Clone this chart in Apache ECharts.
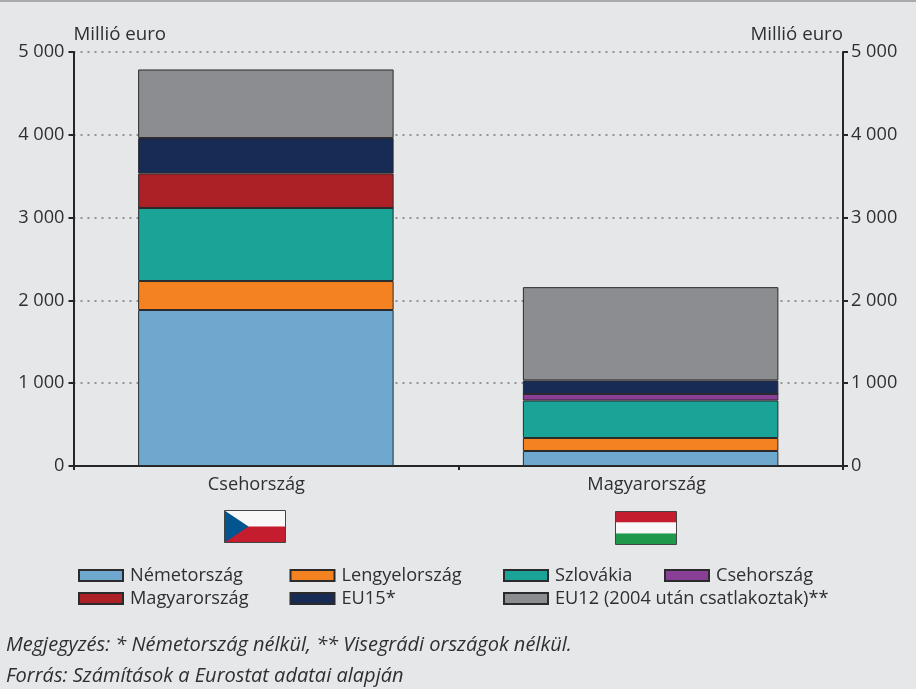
<!DOCTYPE html>
<html><head><meta charset="utf-8">
<style>html,body{margin:0;padding:0;background:#e6e7e9}#c{width:916px;height:689px}</style>
<script src="https://cdn.jsdelivr.net/npm/echarts@6/dist/echarts.min.js"></script>
</head><body><div id="c"></div>
<script>
const categories = ['Csehország', 'Magyarország'];
const nemetorszag = [1884, 181];
const lengyelorszag = [350, 157];
const szlovakia = [882, 453];
const csehorszag = [0, 79];
const magyarorszag = [417, 0];
const eu15 = [428, 163];
const eu12 = [828, 1127];
const axisName = 'Millió euro';
const noteLines = ['Megjegyzés: * Németország nélkül, ** Visegrádi országok nélkül.', 'Forrás: Számítások a Eurostat adatai alapján'];

const FONT = '"Open Sans", "Noto Sans", sans-serif';
const TEXT = '#2f2f31', AXIS = '#262626', FS = 18.2;
const colors = {
  'Németország': '#6fa8cf', 'Lengyelország': '#f58220', 'Szlovákia': '#1aa397', 'Csehország': '#8a3f96',
  'Magyarország': '#ac2125', 'EU15*': '#182b55', 'EU12 (2004 után csatlakoztak)**': '#8c8d91'
};
const seriesData = [
  ['Németország', nemetorszag], ['Lengyelország', lengyelorszag], ['Szlovákia', szlovakia], ['Csehország', csehorszag],
  ['Magyarország', magyarorszag], ['EU15*', eu15], ['EU12 (2004 után csatlakoztak)**', eu12]
];
const labelShift = [19, 8];
const fmt = v => String(v).replace(/\B(?=(\d{3})+$)/g, ' ');
const yAxisBase = {
  type: 'value', min: 0, max: 5000, interval: 1000,
  name: axisName, nameLocation: 'end', nameGap: 8,
  axisLine: { show: true, lineStyle: { color: AXIS, width: 2 } },
  axisTick: { show: true, length: 5, lineStyle: { color: AXIS, width: 2 } },
  axisLabel: { color: TEXT, fontSize: FS, fontFamily: FONT, margin: 9, formatter: fmt }
};
const legendBase = {
  orient: 'vertical', itemWidth: 44, itemHeight: 11, itemGap: 0, padding: 0,
  textStyle: { color: TEXT, fontSize: FS, fontFamily: FONT, padding: [0, 0, 0, 2], height: 23, lineHeight: 23 },
  icon: 'rect', selectedMode: false
};
const leg = (left, data) => Object.assign({}, legendBase, { left, top: 564, data });
const flag = (x, y, children) => ({ type: 'group', x, y, children });

const chart = echarts.init(document.getElementById('c'), null, { renderer: 'canvas' });
chart.setOption({
  backgroundColor: '#e6e7e9',
  animation: false,
  grid: { left: 73.5, right: 73, top: 52, bottom: 223 },
  xAxis: {
    type: 'category',
    data: categories.map((value, i) => ({ value, textStyle: { padding: [0, labelShift[i], 0, 0] } })),
    axisLine: { lineStyle: { color: AXIS, width: 2 } },
    axisTick: { show: true, length: 4, lineStyle: { color: AXIS, width: 2 } },
    axisLabel: { color: TEXT, fontSize: FS, fontFamily: FONT, margin: 10 }
  },
  yAxis: [
    Object.assign({}, yAxisBase, {
      position: 'left',
      nameTextStyle: { color: TEXT, fontSize: 18.7, fontFamily: FONT, align: 'left' },
      splitLine: { show: true, lineStyle: { color: '#77787b', type: [2, 5], width: 1.5 } }
    }),
    Object.assign({}, yAxisBase, {
      position: 'right',
      axisLabel: Object.assign({}, yAxisBase.axisLabel, { margin: 8 }),
      nameTextStyle: { color: TEXT, fontSize: 18.7, fontFamily: FONT, align: 'right' },
      splitLine: { show: false }
    })
  ],
  legend: [
    leg(78, ['Németország', 'Magyarország']),
    leg(289.5, ['Lengyelország', 'EU15*']),
    leg(503, ['Szlovákia', 'EU12 (2004 után csatlakoztak)**']),
    leg(664, ['Csehország'])
  ],
  series: seriesData.map(([name, data]) => ({
    name, type: 'bar', stack: 'total', data, barWidth: '66.4%',
    itemStyle: { color: colors[name], borderColor: '#2b2b2e', borderWidth: 1 }
  })),
  graphic: [
    { type: 'rect', left: 0, top: 0, shape: { width: 916, height: 2 }, style: { fill: '#a9aaac' } },
    { type: 'text', left: 6, top: 635, style: { text: noteLines[0], fill: TEXT, font: 'italic 20px ' + FONT } },
    { type: 'text', left: 6, top: 666, style: { text: noteLines[1], fill: TEXT, font: 'italic 20px ' + FONT } },
    flag(224.5, 510.5, [
      { type: 'rect', shape: { x: 0, y: 0, width: 61, height: 32 }, style: { fill: '#f8f8f8' } },
      { type: 'rect', shape: { x: 0, y: 16, width: 61, height: 16 }, style: { fill: '#c41e2e' } },
      { type: 'polygon', shape: { points: [[0, 0], [24, 16], [0, 32]] }, style: { fill: '#03558f' } },
      { type: 'rect', shape: { x: 0, y: 0, width: 61, height: 32 }, style: { fill: 'none', stroke: '#444', lineWidth: 1 } }
    ]),
    flag(615.5, 511.5, [
      { type: 'rect', shape: { x: 0, y: 0, width: 61, height: 11 }, style: { fill: '#c41e2e' } },
      { type: 'rect', shape: { x: 0, y: 11, width: 61, height: 11 }, style: { fill: '#f8f8f8' } },
      { type: 'rect', shape: { x: 0, y: 22, width: 61, height: 11 }, style: { fill: '#1f984b' } },
      { type: 'rect', shape: { x: 0, y: 0, width: 61, height: 33 }, style: { fill: 'none', stroke: '#444', lineWidth: 1 } }
    ])
  ]
});
</script></body></html>
